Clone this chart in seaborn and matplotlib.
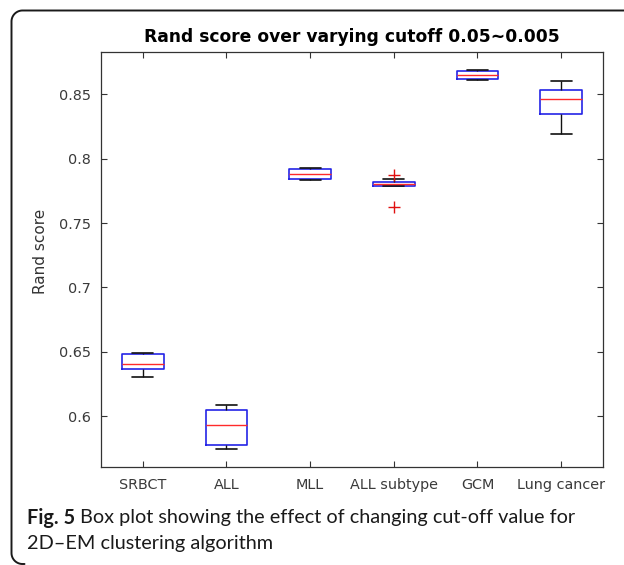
import numpy as np
import pandas as pd
import seaborn as sns
import matplotlib
matplotlib.use("Agg")
import matplotlib.pyplot as plt
from matplotlib.lines import Line2D

# Rand scores per dataset over the cutoff sweep 0.05 ~ 0.005
categories = ["SRBCT", "ALL", "MLL", "ALL subtype", "GCM", "Lung cancer"]
srbct = [0.6303, 0.6367, 0.6408, 0.6481, 0.6491]
all_leuk = [0.5748, 0.5775, 0.5932, 0.6051, 0.6085]
mll = [0.7835, 0.7840, 0.7879, 0.7920, 0.7925]
all_subtype = [0.7627, 0.7790, 0.7790, 0.7800, 0.7806, 0.7812, 0.7819, 0.7842, 0.7871]
gcm = [0.8614, 0.8616, 0.8650, 0.8681, 0.8689]
lung_cancer = [0.8192, 0.8345, 0.8461, 0.8531, 0.8606]

y_ticks = [0.6, 0.65, 0.7, 0.75, 0.8, 0.85]
y_tick_labels = ["0.6", "0.65", "0.7", "0.75", "0.8", "0.85"]

series = [srbct, all_leuk, mll, all_subtype, gcm, lung_cancer]
df = pd.DataFrame({
    "dataset": [c for c, vals in zip(categories, series) for _ in vals],
    "score": [v for vals in series for v in vals],
})

sns.set_style("white")
plt.rcParams["font.family"] = ["DejaVu Sans"]

W, H = 624, 565
fig = plt.figure(figsize=(W / 100, H / 100), dpi=100)
fig.patch.set_facecolor("white")

def fx(px):
    return px / W

def fy(py):
    return 1 - py / H

# axes placed in pixel coordinates
left, right, top, bottom = 101, 603, 52, 467
ax = fig.add_axes([fx(left), fy(bottom), (right - left) / W, (bottom - top) / H])

sns.boxplot(
    data=df, x="dataset", y="score", order=categories, ax=ax,
    width=0.5, fill=False, whis=1.5, color="blue", linewidth=1.0,
    boxprops=dict(color="#2424e6", linewidth=1.2),
    medianprops=dict(color="#ff2a2a", linewidth=1.0),
    whiskerprops=dict(color="#111111", linewidth=1.0),
    capprops=dict(color="#111111", linewidth=1.2),
    flierprops=dict(marker="+", markeredgecolor="#e01010", markerfacecolor="none",
                    markersize=9, markeredgewidth=1.0),
)

ax.set_xlim(-0.5, 5.5)
ax.set_ylim(0.5606, 0.8828)
ax.set_yticks(y_ticks)
ax.set_yticklabels(y_tick_labels)
ax.set_xlabel("")
ax.set_ylabel("Rand score", fontsize=11, color="#333333")
ax.yaxis.set_label_coords(-0.106, 0.52)

for s in ax.spines.values():
    s.set_visible(True)
    s.set_color("#333333")
    s.set_linewidth(0.9)
ax.tick_params(axis="both", direction="in", length=4, width=0.8, color="#333333",
               labelsize=10.4, labelcolor="#3a3a3a", top=True, right=True,
               bottom=True, left=True)
ax.tick_params(axis="x", pad=8)
ax.tick_params(axis="y", pad=7)

ax.set_title("Rand score over varying cutoff 0.05~0.005", fontsize=12.3,
             fontweight="bold", color="black", pad=7)

# figure frame: top and left edges with rounded corners
r = 11
x0, ytop, ybot = 11.5, 10.5, 564
t = np.linspace(0, np.pi / 2, 20)
xs = [W + 5, x0 + r] + list(x0 + r - r * np.sin(t)) + [x0, x0] + \
     list(x0 + r - r * np.cos(t)) + [x0 + r + 2]
ys = [ytop, ytop] + list(ytop + r - r * np.cos(t)) + [ytop + r, ybot - r] + \
     list(ybot - r + r * np.sin(t)) + [ybot]
frame = Line2D([fx(v) for v in xs], [fy(v) for v in ys], transform=fig.transFigure,
               color="#1a1a1a", linewidth=1.4, solid_capstyle="round")
fig.lines.append(frame)

# caption
cap_font = ["Lato", "DejaVu Sans"]
cap_size = 14.3
y1 = fy(518)
y2 = fy(544)
t1 = fig.text(fx(27), y1, "Fig. 5", fontsize=cap_size, fontweight="bold",
              family=cap_font, va="center", ha="left", color="#1a1a1a")
fig.canvas.draw()
bb = t1.get_window_extent()
fig.text(bb.x1 / W + 5 / W, y1,
         "Box plot showing the effect of changing cut-off value for",
         fontsize=cap_size, family=cap_font, va="center", ha="left", color="#1a1a1a")
fig.text(fx(27), y2, "2D\u2013EM clustering algorithm", fontsize=cap_size,
         family=cap_font, va="center", ha="left", color="#1a1a1a")

fig.savefig("out.png", dpi=100)
